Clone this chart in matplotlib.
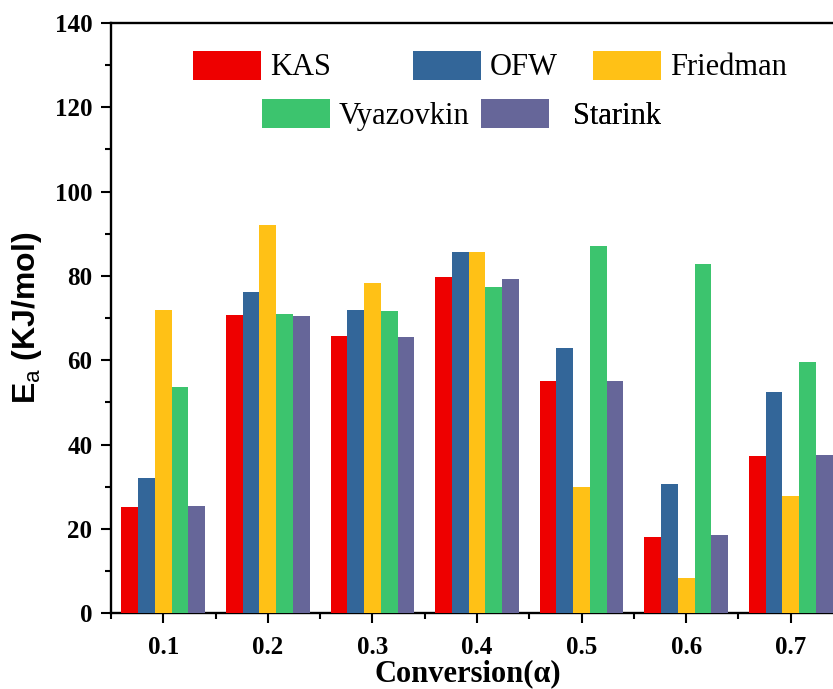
import matplotlib
matplotlib.use("Agg")
import matplotlib.pyplot as plt
import numpy as np
from matplotlib.patches import Patch
from matplotlib.ticker import MultipleLocator

conversion = ["0.1", "0.2", "0.3", "0.4", "0.5", "0.6", "0.7"]
kas = [25.2, 70.8, 65.7, 79.7, 55.1, 18.1, 37.3]
ofw = [32.1, 76.2, 71.9, 85.7, 63.0, 30.6, 52.5]
friedman = [71.9, 92.2, 78.4, 85.7, 29.9, 8.3, 27.9]
vyazovkin = [53.7, 70.9, 71.7, 77.4, 87.0, 82.8, 59.7]
starink = [25.4, 70.5, 65.6, 79.4, 55.1, 18.5, 37.6]

names = ["KAS", "OFW", "Friedman", "Vyazovkin", "Starink"]
colors = ["#EE0000", "#336699", "#FFC116", "#3CC46E", "#666699"]
series = [kas, ofw, friedman, vyazovkin, starink]

plt.rcParams["mathtext.fontset"] = "custom"
plt.rcParams["mathtext.rm"] = "Liberation Sans"

W, H = 833, 689
fig = plt.figure(figsize=(W/100, H/100), dpi=100)
# axes runs a bit past the right edge, like the original export
ax = fig.add_axes([111/W, 1-613.3/H, (843-111)/W, (613.3-23)/H])

x = np.arange(1, len(conversion)+1)
bw = 0.16
for i in range(5):
    ax.bar(x + (i-2)*bw, series[i], width=bw, color=colors[i], linewidth=0, zorder=3)

ax.set_xlim(0.5, 7.5)
ax.set_ylim(0, 140)
ax.set_xticks(x)
ax.set_xticklabels(conversion)
ax.set_xticks(np.arange(0.5, 8, 1.0), minor=True)
ax.yaxis.set_major_locator(MultipleLocator(20))
ax.yaxis.set_minor_locator(MultipleLocator(10))

for s in ax.spines.values():
    s.set_linewidth(1.7)
    s.set_zorder(2)
ax.tick_params(which="major", direction="out", length=7.5, width=1.5, top=False, right=False, pad=6)
ax.tick_params(axis="x", which="major", pad=9)
ax.tick_params(which="minor", direction="out", length=4, width=1.5, top=False, right=False)

for lab in ax.get_xticklabels() + ax.get_yticklabels():
    lab.set_family("Liberation Serif")
    lab.set_fontweight("bold")
    lab.set_fontsize(18)

ax.set_xlabel("Conversion(\u03b1)", family="Liberation Serif", fontweight="bold", fontsize=22)
ax.xaxis.set_label_coords((468-111)/(843-111), -0.077)
ax.set_ylabel("E$_\\mathrm{a}$ (KJ/mol)", family="Liberation Sans", fontweight="bold", fontsize=23)
ax.yaxis.set_label_coords(-(111-44)/(843-111), 0.5)

# legend: one entry each, placed where Origin put them
leg_pos = [(193, 66.5, 0.3), (413, 66.5, 0.3), (593, 66.5, 0.3), (262, 115, 0.3), (481, 115, 0.8)]
for i in range(5):
    px, py, tp = leg_pos[i]
    lg = ax.legend(handles=[Patch(facecolor=colors[i], edgecolor="none")], labels=[names[i]],
                   loc="center left", bbox_to_anchor=(px/W, 1-py/H), bbox_transform=fig.transFigure,
                   frameon=False, borderpad=0, borderaxespad=0, handlelength=2.22, handleheight=1.08,
                   handletextpad=tp, prop={"family": "Liberation Serif", "size": 22})
    ax.add_artist(lg)

fig.savefig("out.png", dpi=100)
